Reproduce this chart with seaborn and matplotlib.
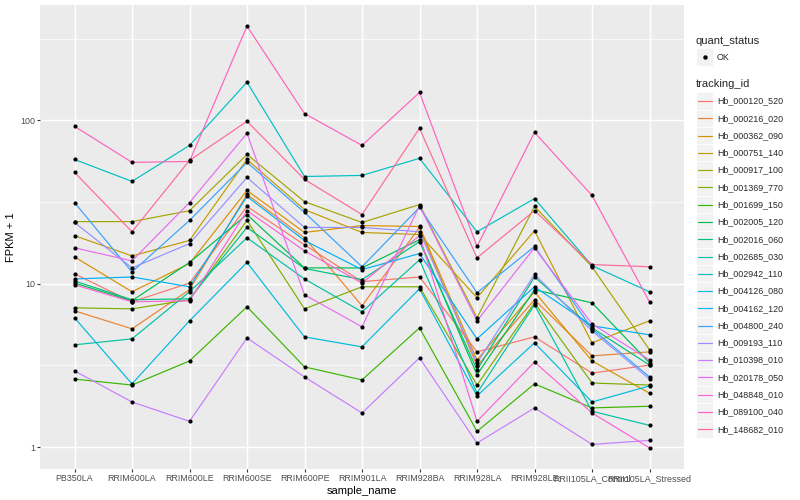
import matplotlib
matplotlib.use("Agg")
import matplotlib.pyplot as plt
from matplotlib.lines import Line2D
from matplotlib.patches import Rectangle
from matplotlib.ticker import FixedLocator, NullFormatter
import numpy as np
import pandas as pd
import seaborn as sns

samples = ["PB350LA", "RRIM600LA", "RRIM600LE", "RRIM600SE", "RRIM600PE", "RRIM901LA",
           "RRIM928BA", "RRIM928LA", "RRIM928LE", "RRII105LA_Control", "RRII105LA_Stressed"]

tracking_ids = ["Hb_000120_520", "Hb_000216_020", "Hb_000362_090", "Hb_000751_140",
                "Hb_000917_100", "Hb_001369_770", "Hb_001699_150", "Hb_002005_120",
                "Hb_002016_060", "Hb_002685_030", "Hb_002942_110", "Hb_004126_080",
                "Hb_004162_120", "Hb_004800_240", "Hb_009193_110", "Hb_010398_010",
                "Hb_020178_050", "Hb_048848_010", "Hb_089100_040", "Hb_148682_010"]

# FPKM + 1, one value per sample (same order as samples)
hb_000120_520 = [11.5, 7.75, 10.1, 29.7, 17.3, 10.3, 11.0, 3.83, 4.73, 2.84, 3.18]
hb_000216_020 = [6.83, 5.30, 9.19, 35.2, 19.1, 7.33, 22.1, 3.14, 7.98, 3.62, 3.83]
hb_000362_090 = [14.6, 8.93, 13.3, 37.2, 20.6, 22.7, 22.4, 3.42, 8.93, 3.37, 2.14]
hb_000751_140 = [19.7, 14.8, 18.4, 57.6, 28.4, 20.6, 20.0, 8.21, 21.1, 4.35, 5.93]
hb_000917_100 = [24.0, 24.0, 28.0, 61.8, 31.8, 23.7, 30.5, 6.19, 29.7, 12.7, 3.94]
hb_001369_770 = [7.12, 7.02, 7.98, 24.4, 7.02, 9.58, 9.58, 2.40, 7.64, 2.47, 2.40]
hb_001699_150 = [2.61, 2.40, 3.37, 7.23, 3.10, 2.58, 5.37, 1.25, 2.44, 1.74, 1.78]
hb_002005_120 = [10.1, 7.87, 13.5, 26.5, 12.5, 12.5, 18.6, 2.77, 9.19, 7.64, 3.28]
hb_002016_060 = [10.4, 7.98, 8.09, 22.1, 12.4, 10.6, 18.1, 2.97, 11.0, 5.37, 3.18]
hb_002685_030 = [4.23, 4.60, 8.93, 19.1, 10.7, 6.73, 14.0, 2.14, 7.43, 1.66, 1.36]
hb_002942_110 = [57.6, 42.3, 70.2, 171.0, 45.3, 46.0, 58.5, 20.8, 33.2, 12.9, 8.93]
hb_004126_080 = [6.19, 2.44, 5.93, 13.5, 4.73, 4.11, 9.32, 2.06, 4.35, 1.89, 2.37]
hb_004162_120 = [10.7, 11.0, 9.58, 34.2, 18.4, 12.2, 15.3, 4.60, 9.58, 5.53, 4.87]
hb_004800_240 = [31.4, 11.8, 24.4, 55.3, 27.3, 12.7, 29.3, 8.81, 16.9, 5.30, 2.69]
hb_009193_110 = [23.7, 12.5, 17.6, 44.7, 22.1, 22.1, 20.8, 3.28, 11.4, 5.15, 2.61]
hb_010398_010 = [2.93, 1.89, 1.44, 4.66, 2.69, 1.62, 3.52, 1.06, 1.74, 1.04, 1.10]
hb_020178_050 = [16.6, 13.8, 31.4, 83.2, 8.56, 5.45, 30.1, 5.93, 16.6, 5.68, 3.42]
hb_048848_010 = [9.86, 7.75, 7.87, 28.0, 15.9, 10.1, 19.7, 1.44, 3.32, 1.62, 0.99]
hb_089100_040 = [91.9, 55.3, 56.0, 377.0, 110.0, 70.2, 148.0, 16.9, 84.4, 34.7, 7.75]
hb_148682_010 = [48.0, 20.8, 56.8, 98.6, 43.5, 26.5, 89.3, 14.4, 28.0, 13.1, 12.7]

series = [hb_000120_520, hb_000216_020, hb_000362_090, hb_000751_140, hb_000917_100,
          hb_001369_770, hb_001699_150, hb_002005_120, hb_002016_060, hb_002685_030,
          hb_002942_110, hb_004126_080, hb_004162_120, hb_004800_240, hb_009193_110,
          hb_010398_010, hb_020178_050, hb_048848_010, hb_089100_040, hb_148682_010]


def hue_pal(n, c=100.0, l=65.0):
    # ggplot2 default discrete palette (polar LUV -> sRGB)
    hues = np.linspace(15, 375, n + 1)[:-1]
    xn, yn, zn = 95.047, 100.0, 108.883
    un = 4 * xn / (xn + 15 * yn + 3 * zn)
    vn = 9 * yn / (xn + 15 * yn + 3 * zn)
    out = []
    for h in hues:
        u = c * np.cos(np.radians(h))
        v = c * np.sin(np.radians(h))
        y = yn * ((l + 16) / 116) ** 3
        up = u / (13 * l) + un
        vp = v / (13 * l) + vn
        x = y * 9 * up / (4 * vp)
        z = y * (12 - 3 * up - 20 * vp) / (4 * vp)
        x, y, z = x / 100, y / 100, z / 100
        rgb = np.array([
            3.2404542 * x - 1.5371385 * y - 0.4985314 * z,
            -0.9692660 * x + 1.8760108 * y + 0.0415560 * z,
            0.0556434 * x - 0.2040259 * y + 1.0572252 * z,
        ])
        rgb = np.where(rgb <= 0.0031308, 12.92 * rgb, 1.055 * np.abs(rgb) ** (1 / 2.4) - 0.055)
        out.append(tuple(np.clip(rgb, 0, 1)))
    return out


rows = []
for tid, vals in zip(tracking_ids, series):
    for pos, (s, v) in enumerate(zip(samples, vals)):
        rows.append({"tracking_id": tid, "sample_name": s, "pos": pos, "fpkm1": v})
df = pd.DataFrame(rows)

colors = hue_pal(len(tracking_ids))
palette = dict(zip(tracking_ids, colors))

sns.set_theme(style="darkgrid", rc={"axes.facecolor": "#EBEBEB", "grid.color": "white"})
plt.rcParams["font.family"] = ["Liberation Sans", "DejaVu Sans"]

fig = plt.figure(figsize=(8, 5), dpi=100)
ax = fig.add_axes([40 / 800, 31 / 500, 644 / 800, 464 / 500])

sns.lineplot(data=df, x="pos", y="fpkm1", hue="tracking_id", hue_order=tracking_ids,
             palette=palette, estimator=None, sort=False, legend=False, lw=0.85, ax=ax)
sns.scatterplot(data=df, x="pos", y="fpkm1", color="black", s=9, linewidth=0,
                legend=False, ax=ax, zorder=3)

ax.set_yscale("log")
lo, hi = np.log10(df["fpkm1"].min()), np.log10(df["fpkm1"].max())
pad = 0.05 * (hi - lo)
ax.set_ylim(10 ** (lo - pad), 10 ** (hi + pad))
ax.set_xlim(-0.6, len(samples) - 1 + 0.6)

ax.set_xticks(range(len(samples)))
ax.set_xticklabels(samples)
ax.yaxis.set_major_locator(FixedLocator([1, 10, 100]))
ax.set_yticklabels(["1", "10", "100"])
ax.yaxis.set_minor_locator(FixedLocator([10 ** 0.5, 10 ** 1.5, 10 ** 2.5]))
ax.yaxis.set_minor_formatter(NullFormatter())

ax.grid(which="major", color="white", lw=1.05)
ax.grid(which="minor", axis="y", color="white", lw=0.5)
ax.tick_params(which="major", length=2.0, width=0.8, color="#333333", pad=1.5,
               labelsize=6.4, labelcolor="#4D4D4D", bottom=True, left=True)
ax.tick_params(which="minor", length=0)
for sp in ax.spines.values():
    sp.set_visible(False)

ax.set_xlabel("sample_name", fontsize=8, color="black", labelpad=2)
ax.set_ylabel("FPKM + 1", fontsize=8, color="black", labelpad=3)

# ggplot-style legends on the right, in pixel units
lax = fig.add_axes([690 / 800, 0, 110 / 800, 1])
lax.set_xlim(690, 800)
lax.set_ylim(500, 0)
lax.axis("off")
key = 17.28

lax.text(696, 41, "quant_status", fontsize=8, va="center", ha="left")
lax.add_patch(Rectangle((696, 57 - key / 2), key, key, facecolor="#F2F2F2", edgecolor="white", lw=0.6))
lax.plot([696 + key / 2], [57], "o", color="black", ms=2.2)
lax.text(717, 57, "OK", fontsize=6.4, va="center", ha="left")

lax.text(696, 84, "tracking_id", fontsize=8, va="center", ha="left")
for i, (tid, col) in enumerate(zip(tracking_ids, colors)):
    yc = 101 + i * key
    lax.add_patch(Rectangle((696, yc - key / 2), key, key, facecolor="#F2F2F2", edgecolor="white", lw=0.6))
    lax.add_line(Line2D([698, 712], [yc, yc], color=col, lw=0.85))
    lax.text(717, yc, tid, fontsize=6.4, va="center", ha="left")

fig.savefig("out.png", dpi=100)
